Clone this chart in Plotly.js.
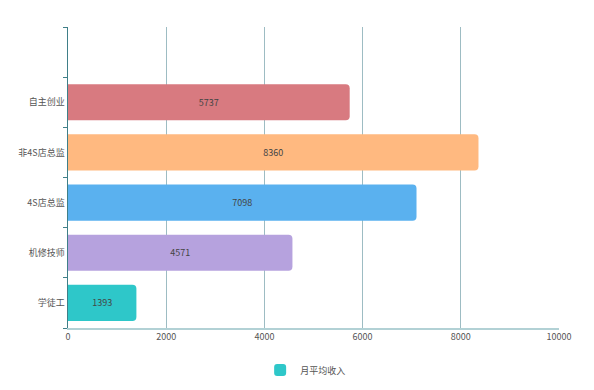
<!DOCTYPE html>
<html>
<head>
<meta charset="utf-8">
<script src="https://cdn.plot.ly/plotly-3.0.1.min.js"></script>
<style>html,body{margin:0;padding:0;background:#fff;}#chart{width:594px;height:390px;}</style>
</head>
<body>
<div id="chart"></div>
<script>
const categories = ['学徒工', '机修技师', '4S店总监', '非4S店总监', '自主创业', ' '];
const values = [1393, 4571, 7098, 8360, 5737, null];
const barColors = ['#2ec7c9', '#b6a2de', '#5ab1ef', '#ffb980', '#d87a80', '#ffffff'];
const seriesName = '月平均收入';
const xTicks = [0, 2000, 4000, 6000, 8000, 10000];

const font = '"Noto Sans CJK SC", "Noto Sans", sans-serif';

const trace = {
  type: 'bar',
  orientation: 'h',
  name: seriesName,
  y: categories,
  x: values,
  width: 0.72,
  marker: { color: barColors, cornerradius: 4, line: { width: 0 } },
  text: values.map(v => v == null ? '' : String(v)),
  textposition: 'inside',
  insidetextanchor: 'middle',
  textfont: { family: font, size: 9, color: '#444' },
  hoverinfo: 'none',
  showlegend: true
};

const layout = {
  width: 594,
  height: 390,
  margin: { l: 68, r: 35, t: 27, b: 62, autoexpand: false },
  paper_bgcolor: '#ffffff',
  plot_bgcolor: '#ffffff',
  font: { family: font, size: 9, color: '#555' },
  xaxis: {
    range: [0, 10000],
    tickvals: xTicks,
    ticktext: xTicks.map(String),
    showgrid: true,
    gridcolor: '#9dbcc3',
    gridwidth: 1,
    zeroline: false,
    showline: true,
    linecolor: '#b2d1d5',
    linewidth: 1.5,
    ticks: '',
    automargin: false,
    tickfont: { family: font, size: 9, color: '#555' },
    fixedrange: true
  },
  yaxis: {
    type: 'category',
    categoryorder: 'array',
    categoryarray: categories,
    range: [-0.5, 5.5],
    showgrid: false,
    zeroline: false,
    showline: true,
    linecolor: '#3f7f88',
    linewidth: 1.5,
    ticks: 'outside',
    tickson: 'boundaries',
    ticklen: 4,
    tickcolor: '#3f7f88',
    tickwidth: 1,
    automargin: false,
    tickfont: { family: font, size: 9, color: '#555' },
    fixedrange: true
  },
  legend: {
    orientation: 'h',
    x: 0.484,
    xanchor: 'center',
    yref: 'container',
    y: 0.051,
    yanchor: 'middle',
    font: { family: font, size: 9, color: '#555' },
    itemwidth: 30
  },
  showlegend: true
};

Plotly.newPlot('chart', [trace], layout, { displayModeBar: false, staticPlot: true });
</script>
</body>
</html>
